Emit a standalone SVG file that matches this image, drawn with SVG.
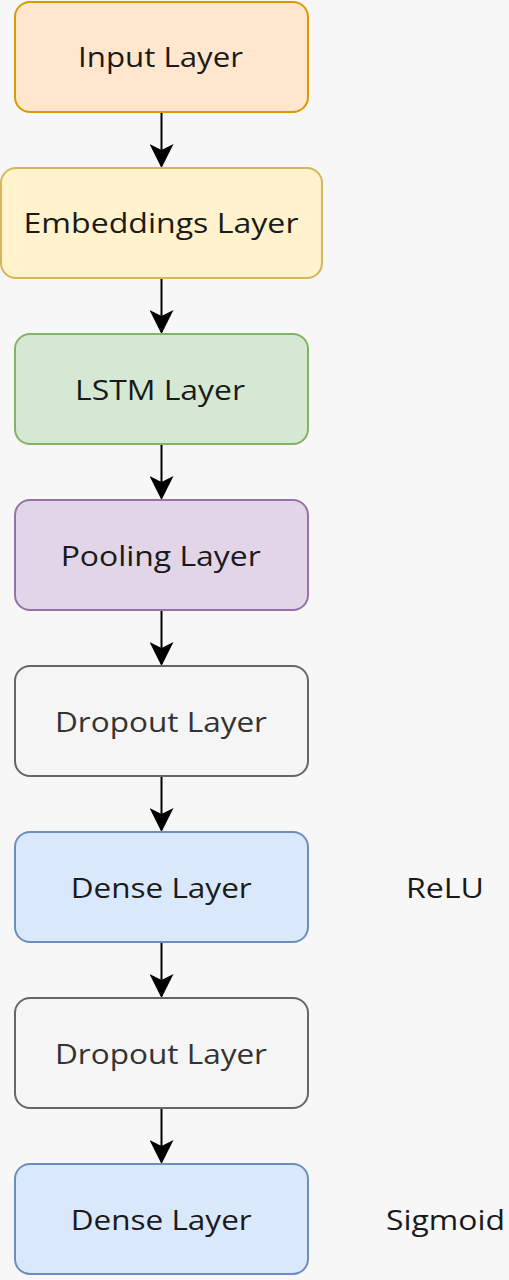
<svg xmlns="http://www.w3.org/2000/svg" width="509" height="1280" viewBox="0 0 509 1280">
<defs>
<style>
.n{stroke-width:2}
.t{font-family:"Open Sans","Noto Sans",sans-serif;font-size:28px;text-anchor:middle;fill:#1a1a1a}
.g{fill:#333333}
.c{stroke:#000;stroke-width:2;fill:none}
</style>
<marker id="ah" viewBox="0 0 24 24" markerWidth="24" markerHeight="24" refX="22" refY="12" orient="auto" markerUnits="userSpaceOnUse">
<path d="M0,0 L24,12 L0,24 L6,12 Z" fill="#000"/>
</marker>
</defs>
<rect width="509" height="1280" fill="#f7f7f7"/>
<g id="connectors">
<line class="c" x1="161.5" y1="112" x2="161.5" y2="166" marker-end="url(#ah)"/>
<line class="c" x1="161.5" y1="278" x2="161.5" y2="332" marker-end="url(#ah)"/>
<line class="c" x1="161.5" y1="444" x2="161.5" y2="498" marker-end="url(#ah)"/>
<line class="c" x1="161.5" y1="610" x2="161.5" y2="664" marker-end="url(#ah)"/>
<line class="c" x1="161.5" y1="776" x2="161.5" y2="830" marker-end="url(#ah)"/>
<line class="c" x1="161.5" y1="942" x2="161.5" y2="996" marker-end="url(#ah)"/>
<line class="c" x1="161.5" y1="1108" x2="161.5" y2="1162" marker-end="url(#ah)"/>
</g>
<g id="input"><rect class="n" x="15" y="2" width="293" height="110" rx="15" fill="#ffe6cc" stroke="#d79b00"/><text class="t" x="160.5" y="67" textLength="165" lengthAdjust="spacingAndGlyphs">Input Layer</text></g>
<g id="embeddings"><rect class="n" x="1" y="168" width="321" height="110" rx="15" fill="#fff2cc" stroke="#d6b656"/><text class="t" x="161" y="233" textLength="275" lengthAdjust="spacingAndGlyphs">Embeddings Layer</text></g>
<g id="lstm"><rect class="n" x="15" y="334" width="293" height="110" rx="15" fill="#d5e8d4" stroke="#82b366"/><text class="t" x="160" y="400" textLength="170" lengthAdjust="spacingAndGlyphs">LSTM Layer</text></g>
<g id="pooling"><rect class="n" x="15" y="500" width="293" height="110" rx="15" fill="#e1d5e7" stroke="#9673a6"/><text class="t" x="160.7" y="566" textLength="200" lengthAdjust="spacingAndGlyphs">Pooling Layer</text></g>
<g id="dropout1"><rect class="n" x="15" y="666" width="293" height="110" rx="15" fill="#f5f5f5" stroke="#666666"/><text class="t g" x="161" y="732" textLength="212" lengthAdjust="spacingAndGlyphs">Dropout Layer</text></g>
<g id="dense1"><rect class="n" x="15" y="832" width="293" height="110" rx="15" fill="#dae8fc" stroke="#6c8ebf"/><text class="t" x="161.2" y="898" textLength="181" lengthAdjust="spacingAndGlyphs">Dense Layer</text></g>
<g id="dropout2"><rect class="n" x="15" y="998" width="293" height="110" rx="15" fill="#f5f5f5" stroke="#666666"/><text class="t g" x="161" y="1064" textLength="212" lengthAdjust="spacingAndGlyphs">Dropout Layer</text></g>
<g id="dense2"><rect class="n" x="15" y="1164" width="293" height="110" rx="15" fill="#dae8fc" stroke="#6c8ebf"/><text class="t" x="161.2" y="1230" textLength="181" lengthAdjust="spacingAndGlyphs">Dense Layer</text></g>
<g id="relu"><text class="t" x="445" y="898" textLength="78" lengthAdjust="spacingAndGlyphs">ReLU</text></g>
<g id="sigmoid"><text class="t" x="445.5" y="1230" textLength="119" lengthAdjust="spacingAndGlyphs">Sigmoid</text></g>
</svg>
